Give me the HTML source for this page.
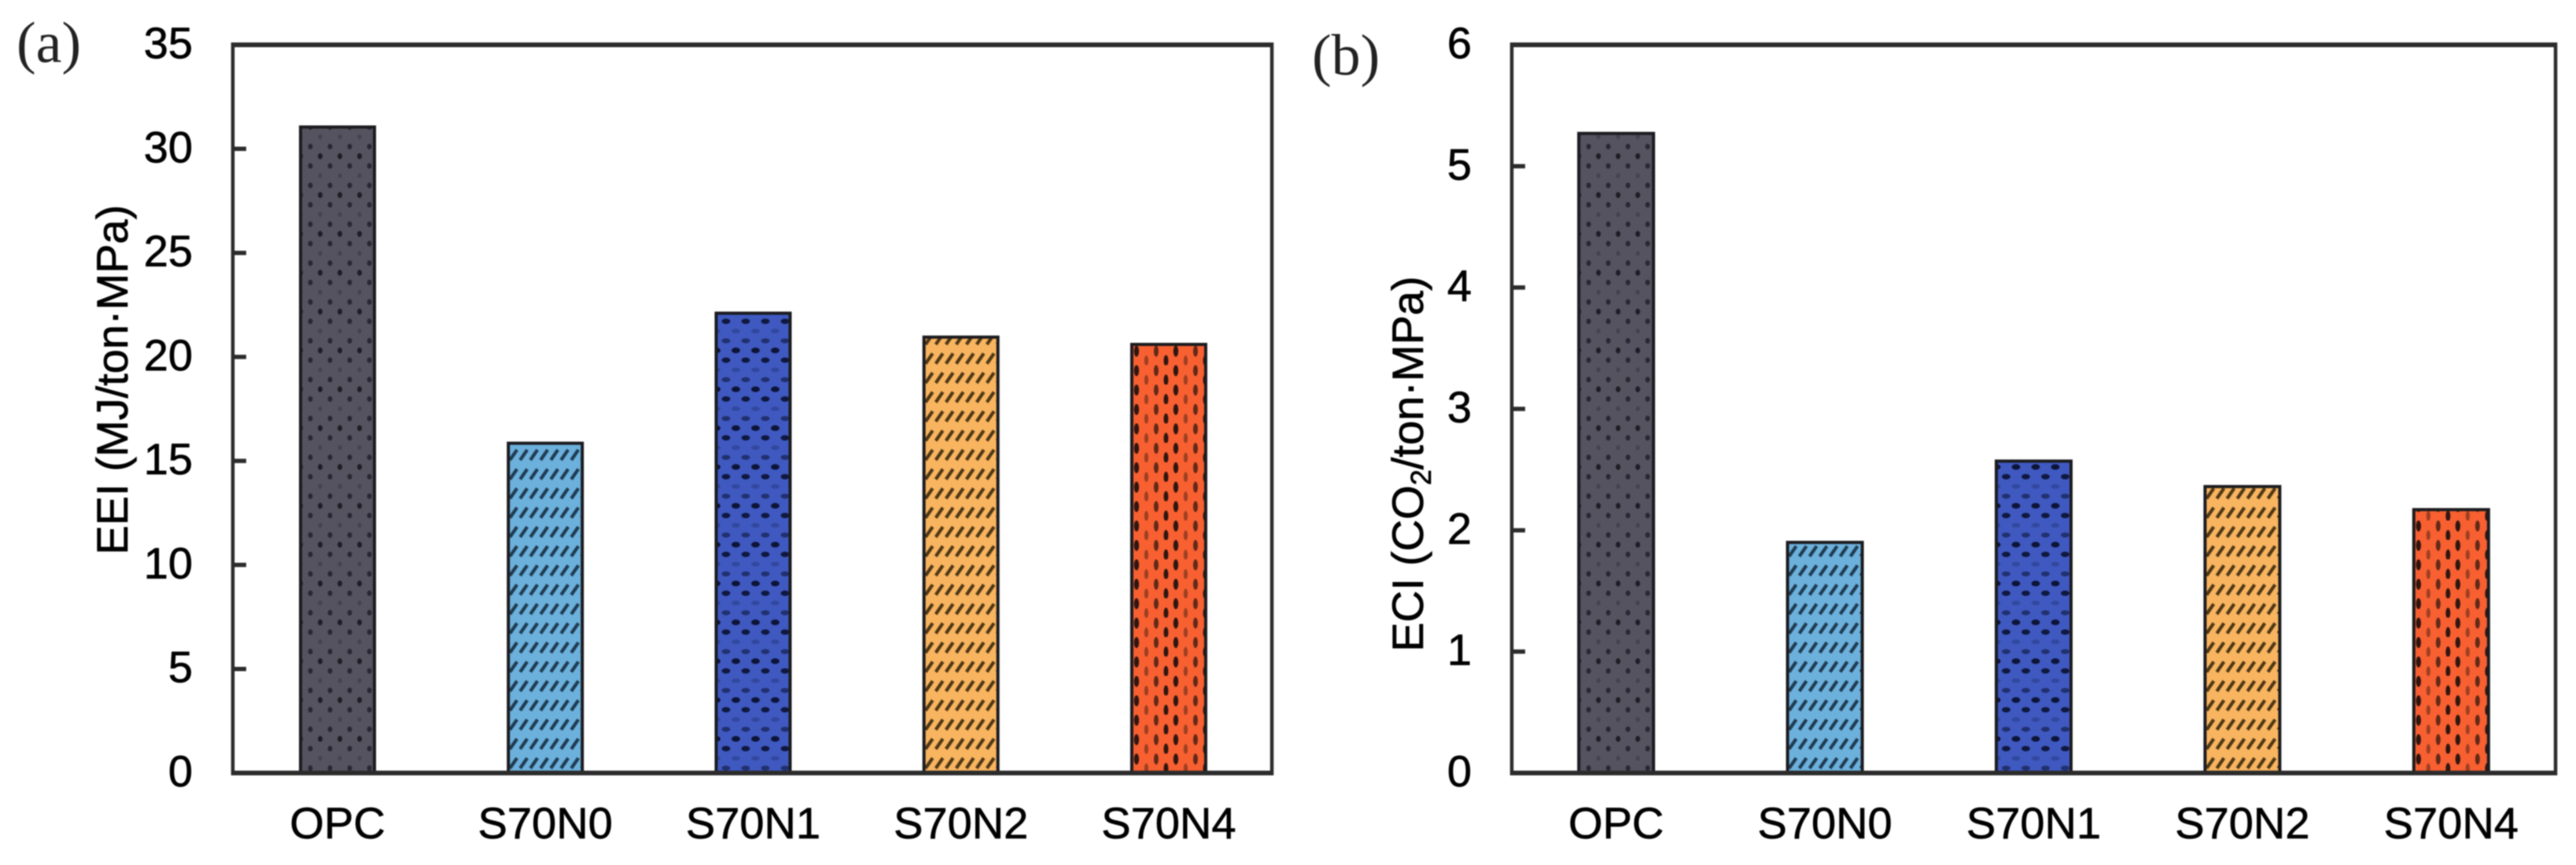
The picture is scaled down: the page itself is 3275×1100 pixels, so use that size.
<!DOCTYPE html>
<html lang="en">
<head>
<meta charset="utf-8">
<title>EEI and ECI bar charts</title>
<style>
  html, body { margin: 0; padding: 0; background: #fff; }
  svg { display: block; filter: blur(0.9px); }
  text { font-family: "Liberation Sans", sans-serif; fill: #000; stroke: #000; stroke-width: 0.7px; }
  .panel-letter { font-family: "Liberation Serif", serif; font-size: 74px; fill: #222; stroke: none; }
  .tick-label, .cat-label, .axis-title { font-size: 56px; }
</style>
</head>
<body>
<svg id="figure" xmlns="http://www.w3.org/2000/svg" width="3275" height="1100" viewBox="0 0 3275 1100">
  <defs>
    <pattern id="pat-opc" patternUnits="userSpaceOnUse" width="50" height="49.4">
      <rect width="50" height="49.4" fill="#55535f"/>
      <g fill="#1e1d25">
        <ellipse cx="0" cy="6" rx="3" ry="3.8"/><ellipse cx="25" cy="6" rx="3" ry="3.8"/><ellipse cx="50" cy="6" rx="3" ry="3.8"/>
        <ellipse cx="12.5" cy="18.4" rx="3" ry="3.6" opacity=".8"/><ellipse cx="37.5" cy="18.4" rx="3" ry="3.6" opacity=".8"/>
        <ellipse cx="0" cy="30.8" rx="2.6" ry="3.2" opacity=".3"/><ellipse cx="25" cy="30.8" rx="2.6" ry="3.2" opacity=".3"/><ellipse cx="50" cy="30.8" rx="2.6" ry="3.2" opacity=".3"/>
        <ellipse cx="12.5" cy="43.2" rx="3" ry="3.6" opacity=".8"/><ellipse cx="37.5" cy="43.2" rx="3" ry="3.6" opacity=".8"/>
      </g>
    </pattern>
    <pattern id="pat-s70n1" patternUnits="userSpaceOnUse" width="50" height="49.4">
      <rect width="50" height="49.4" fill="#3f59c1"/>
      <g fill="#0d1438">
        <ellipse cx="0" cy="6" rx="5.5" ry="3.6"/><ellipse cx="25" cy="6" rx="5.5" ry="3.6"/><ellipse cx="50" cy="6" rx="5.5" ry="3.6"/>
        <ellipse cx="12.5" cy="18.4" rx="5.5" ry="3.4" opacity=".95"/><ellipse cx="37.5" cy="18.4" rx="5.5" ry="3.4" opacity=".95"/>
        <ellipse cx="0" cy="30.8" rx="5.5" ry="3" opacity=".25"/><ellipse cx="25" cy="30.8" rx="5.5" ry="3" opacity=".25"/><ellipse cx="50" cy="30.8" rx="5.5" ry="3" opacity=".25"/>
        <ellipse cx="12.5" cy="43.2" rx="5.5" ry="3.2" opacity=".6"/><ellipse cx="37.5" cy="43.2" rx="5.5" ry="3.2" opacity=".6"/>
      </g>
    </pattern>
    <pattern id="pat-s70n0" patternUnits="userSpaceOnUse" width="13" height="24.5">
      <rect width="13" height="24.5" fill="#6cb0dc"/>
      <path d="M2 18.5 L11 5.5" stroke="#1f3c52" stroke-width="4.2" fill="none"/>
    </pattern>
    <pattern id="pat-s70n2" patternUnits="userSpaceOnUse" width="13" height="24.5">
      <rect width="13" height="24.5" fill="#f8b45f"/>
      <path d="M2 18.5 L11 5.5" stroke="#4f3816" stroke-width="4.2" fill="none"/>
    </pattern>
    <pattern id="pat-s70n4" patternUnits="userSpaceOnUse" width="50" height="24.7">
      <rect width="50" height="24.7" fill="#f86031"/>
      <g fill="#2f1610">
        <ellipse cx="6" cy="7" rx="3.2" ry="7"/>
        <ellipse cx="18.5" cy="19" rx="2.6" ry="6.5" opacity=".45"/>
        <ellipse cx="31" cy="7" rx="3" ry="7" opacity=".75"/>
        <ellipse cx="43.5" cy="19" rx="3" ry="7"/>
      </g>
    </pattern>
  </defs>

  <text class="panel-letter" x="21" y="79">(a)</text>
  <text class="panel-letter" x="1668" y="95">(b)</text>

  <g id="panel-a"></g>
  <g id="panel-b"></g>

  <text class="axis-title" text-anchor="middle" transform="translate(162,483) rotate(-90)">EEI (MJ/ton·MPa)</text>
  <text class="axis-title" text-anchor="middle" transform="translate(1809,590) rotate(-90)">ECI (CO<tspan font-size="36" dy="10">2</tspan><tspan dy="-10">/ton·MPa)</tspan></text>
</svg>

<script>
const categories = ["OPC", "S70N0", "S70N1", "S70N2", "S70N4"];
const eeiValues = [31.05, 15.85, 22.1, 20.95, 20.6];
const eciValues = [5.27, 1.9, 2.57, 2.36, 2.17];
const eeiTicks = [0, 5, 10, 15, 20, 25, 30, 35];
const eciTicks = [0, 1, 2, 3, 4, 5, 6];
const barPatterns = ["pat-opc", "pat-s70n0", "pat-s70n1", "pat-s70n2", "pat-s70n4"];

const SVG_NS = "http://www.w3.org/2000/svg";
const LINE = "#2c2c2c";
const plotTop = 57;
const plotBottom = 983;

function make(tag, attrs, parent) {
  const el = document.createElementNS(SVG_NS, tag);
  for (const k in attrs) el.setAttribute(k, attrs[k]);
  parent.appendChild(el);
  return el;
}

function drawPanel(rootId, prefix, values, ticks, left, right, barWidth, centerShift) {
  const root = document.getElementById(rootId);
  const yMax = ticks[ticks.length - 1];
  const yScale = v => plotBottom - (v / yMax) * (plotBottom - plotTop);
  const band = (right - left) / categories.length;
  const xScale = i => left + band * (i + 0.5) + centerShift;

  categories.forEach((cat, i) => {
    const cx = xScale(i);
    const h = plotBottom - yScale(values[i]);
    const g = make("g", { transform: "translate(" + (cx - barWidth / 2) + "," + plotBottom + ")" }, root);
    const bar = make("rect", {
      x: 0, y: -h, width: barWidth, height: h,
      fill: "url(#" + barPatterns[i] + ")",
      stroke: "#1c1c20", "stroke-width": 4
    }, g);
    
    

    const label = make("text", { x: cx, y: 1066, "text-anchor": "middle", class: "cat-label" }, root);
    label.textContent = cat;
    
    
  });

  ticks.forEach(t => {
    const y = yScale(t);
    if (t !== 0 && t !== yMax) {
      const tick = make("line", { x1: left, x2: left + 17, y1: y, y2: y, stroke: LINE, "stroke-width": 5.5 }, root);
      
      
    }
    const label = make("text", { x: left - 51, y: y + 17, "text-anchor": "end", class: "tick-label" }, root);
    label.textContent = t;
    
    
  });

  const leftAxis = make("line", { x1: left, x2: left, y1: plotTop - 3, y2: plotBottom + 3, stroke: LINE, "stroke-width": 4.5 }, root);
  
  

  const rightEdge = make("line", { x1: right, x2: right, y1: plotTop - 3, y2: plotBottom + 3, stroke: LINE, "stroke-width": 4.5 }, root);
  
  

  const topEdge = make("line", { x1: left - 2, x2: right + 2, y1: plotTop, y2: plotTop, stroke: LINE, "stroke-width": 6 }, root);
  
  

  const xAxis = make("line", { x1: left - 2, x2: right + 2, y1: plotBottom, y2: plotBottom, stroke: LINE, "stroke-width": 6 }, root);
  
  
}

drawPanel("panel-a", "eei", eeiValues, eeiTicks, 296, 1617, 94, 1);
drawPanel("panel-b", "eci", eciValues, eciTicks, 1922, 3249, 95, 0);
</script>
</body>
</html>
